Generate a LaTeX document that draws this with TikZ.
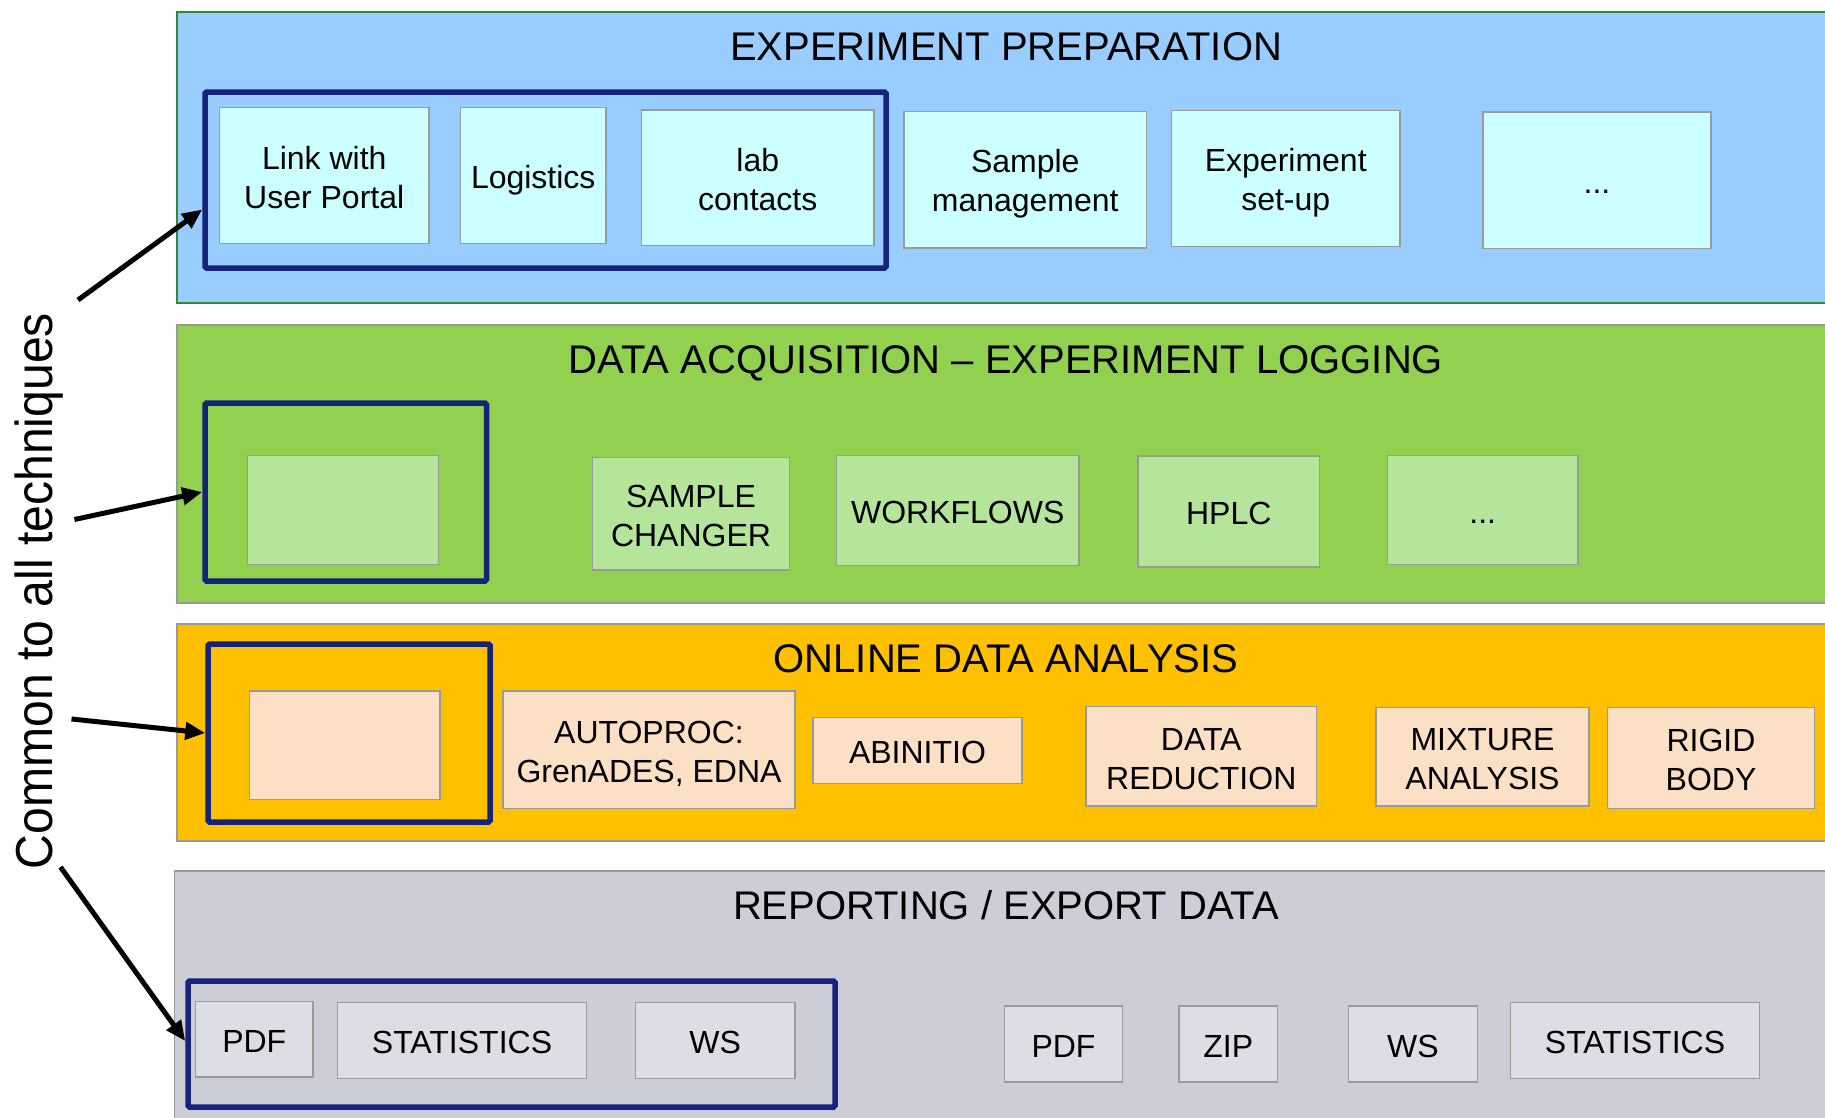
\documentclass[tikz,border=0pt]{standalone}
\usepackage{fontspec}
\usepackage{graphicx}
\setmainfont{Liberation Sans}
\usetikzlibrary{arrows.meta}

\definecolor{blueband}{HTML}{99CCFF}
\definecolor{bluecell}{HTML}{CCFFFF}
\definecolor{greenband}{HTML}{92D050}
\definecolor{greencell}{HTML}{B4E59B}
\definecolor{orangeband}{HTML}{FFC000}
\definecolor{peachcell}{HTML}{FCE0C5}
\definecolor{greyband}{HTML}{CDCDD7}
\definecolor{greycell}{HTML}{DDDDE6}
\definecolor{navy}{HTML}{15247A}
\definecolor{edgegreen}{HTML}{2E8B2E}
\definecolor{edgegrey}{HTML}{9A9A9A}

% line box of the font, so that text sits centred like in a text frame
\newcommand\linebox{\rule[-0.167em]{0pt}{1.167em}}

% a box given by its corners: name, style, x1, y1, x2, y2, text
\newcommand\boxat[7]{%
  \node[#2, minimum width={(#5-#3)*1pt}, minimum height={(#6-#4)*1pt}]
    (#1) at ({(#3+#5)/2},{(#4+#6)/2}) {#7};}
% the same, for boxes holding text
\newcommand\cellat[7]{\boxat{#1}{#2}{#3}{#4}{#5}{#6}{\linebox#7\linebox}}

\begin{document}
\begin{tikzpicture}[x=1pt,y=-1pt,
  band/.style={rectangle, inner sep=0pt, line width=1.5pt, draw=edgegrey},
  cell/.style={rectangle, inner sep=0pt, line width=1.5pt, draw=edgegrey,
    align=center, font=\fontsize{32}{39}\selectfont},
  group/.style={rectangle, inner sep=0pt, line width=5.5pt, draw=navy,
    rounded corners=1.5pt},
  bandtitle/.style={anchor=base, inner sep=0pt, font=\fontsize{40}{48}\selectfont},
  pointer/.style={line width=5pt, -{Triangle[length=20pt,width=17pt]}}]

\useasboundingbox (0,0) rectangle (1825,1117);
\clip (0,0) rectangle (1825,1117);

% the four layers
\boxat{prep}{band, fill=blueband, draw=edgegreen}{177}{12}{1835}{303}{}
\boxat{acq}{band, fill=greenband}{177}{325}{1835}{603}{}
\boxat{ana}{band, fill=orangeband}{177}{624}{1835}{841}{}
\boxat{rep}{band, fill=greyband}{174.5}{871}{1835}{1130}{}

\node[bandtitle] (prept) at (1006,60.5) {EXPERIMENT PREPARATION};
\node[bandtitle] (acqt) at (1006,373.5) {DATA ACQUISITION – EXPERIMENT LOGGING};
\node[bandtitle] (anat) at (1006,672) {ONLINE DATA ANALYSIS};
\node[bandtitle] (rept) at (1006,919) {REPORTING / EXPORT DATA};

% groups shared by all techniques
\boxat{gprep}{group}{205}{92}{886}{268}{}
\boxat{gacq}{group}{205}{403}{486.5}{581}{}
\boxat{gana}{group}{208}{644}{490}{822}{}
\boxat{grep}{group}{188}{981}{835}{1107}{}

% experiment preparation
\cellat{portal}{cell, fill=bluecell}{219.5}{107.5}{429}{243.5}{Link with\\User Portal}
\cellat{logist}{cell, fill=bluecell}{460.5}{107.5}{606}{243.5}{Logistics}
\cellat{labc}{cell, fill=bluecell}{641.5}{110}{874}{245.5}{lab\\contacts}
\cellat{sample}{cell, fill=bluecell}{904}{111.5}{1146.5}{248}{Sample\\management}
\cellat{setup}{cell, fill=bluecell}{1171.5}{110.5}{1400}{246.5}{Experiment\\set-up}
\cellat{prepmore}{cell, fill=bluecell}{1483}{112}{1711}{248.5}{...}

% data acquisition
\boxat{acqcommon}{cell, fill=greencell}{247.5}{455.5}{438.5}{564.5}{}
\cellat{changer}{cell, fill=greencell}{592.5}{457.5}{789.5}{570}{SAMPLE\\CHANGER}
\cellat{workfl}{cell, fill=greencell}{836.5}{455.5}{1079}{565.5}{WORKFLOWS}
\cellat{hplc}{cell, fill=greencell}{1138}{456}{1319.5}{567}{HPLC}
\cellat{acqmore}{cell, fill=greencell}{1387.5}{455.5}{1578}{564.5}{...}

% online data analysis
\boxat{anacommon}{cell, fill=peachcell}{249.5}{691}{440}{799.5}{}
\cellat{autoproc}{cell, fill=peachcell}{503}{691}{795}{808.5}{AUTOPROC:\\GrenADES, EDNA}
\cellat{abinitio}{cell, fill=peachcell}{813}{717.5}{1022}{783.5}{ABINITIO}
\cellat{reduct}{cell, fill=peachcell}{1086}{706.5}{1316.5}{806}{DATA\\REDUCTION}
\cellat{mixture}{cell, fill=peachcell}{1376}{707.5}{1589}{806}{MIXTURE\\ANALYSIS}
\cellat{rigid}{cell, fill=peachcell}{1607.5}{707.5}{1814.5}{808.5}{RIGID\\BODY}

% reporting / export
\cellat{pdfa}{cell, fill=greycell}{195.5}{1001.5}{313}{1077}{PDF}
\cellat{statsa}{cell, fill=greycell}{337.5}{1002.5}{586.5}{1078.5}{STATISTICS}
\cellat{wsa}{cell, fill=greycell}{635.5}{1002.5}{795}{1078.5}{WS}
\cellat{pdfb}{cell, fill=greycell}{1004.5}{1006}{1122.5}{1082}{PDF}
\cellat{zip}{cell, fill=greycell}{1179}{1006}{1277.5}{1082}{ZIP}
\cellat{wsb}{cell, fill=greycell}{1348.5}{1006}{1477.5}{1082}{WS}
\cellat{statsb}{cell, fill=greycell}{1510.5}{1002.5}{1759.5}{1078.5}{STATISTICS}

% side label and its pointers
\node[rotate=90, anchor=base, inner sep=0pt, font=\fontsize{52}{60}\selectfont]
  (common) at (52,591) {\scalebox{0.925}[1]{Common to all techniques}};

\coordinate (fromprep) at (78,300);
\coordinate (fromacq) at (74.5,519.5);
\coordinate (fromana) at (71.5,719);
\coordinate (fromrep) at (60.5,867);

\draw[pointer] (fromprep) -- ([yshift=-29.5pt]gprep.west);
\draw[pointer] (fromacq) -- (gacq.west);
\draw[pointer] (fromana) -- (gana.west);
\draw[pointer] (fromrep) -- ([yshift=3pt]grep.west);

\end{tikzpicture}
\end{document}
